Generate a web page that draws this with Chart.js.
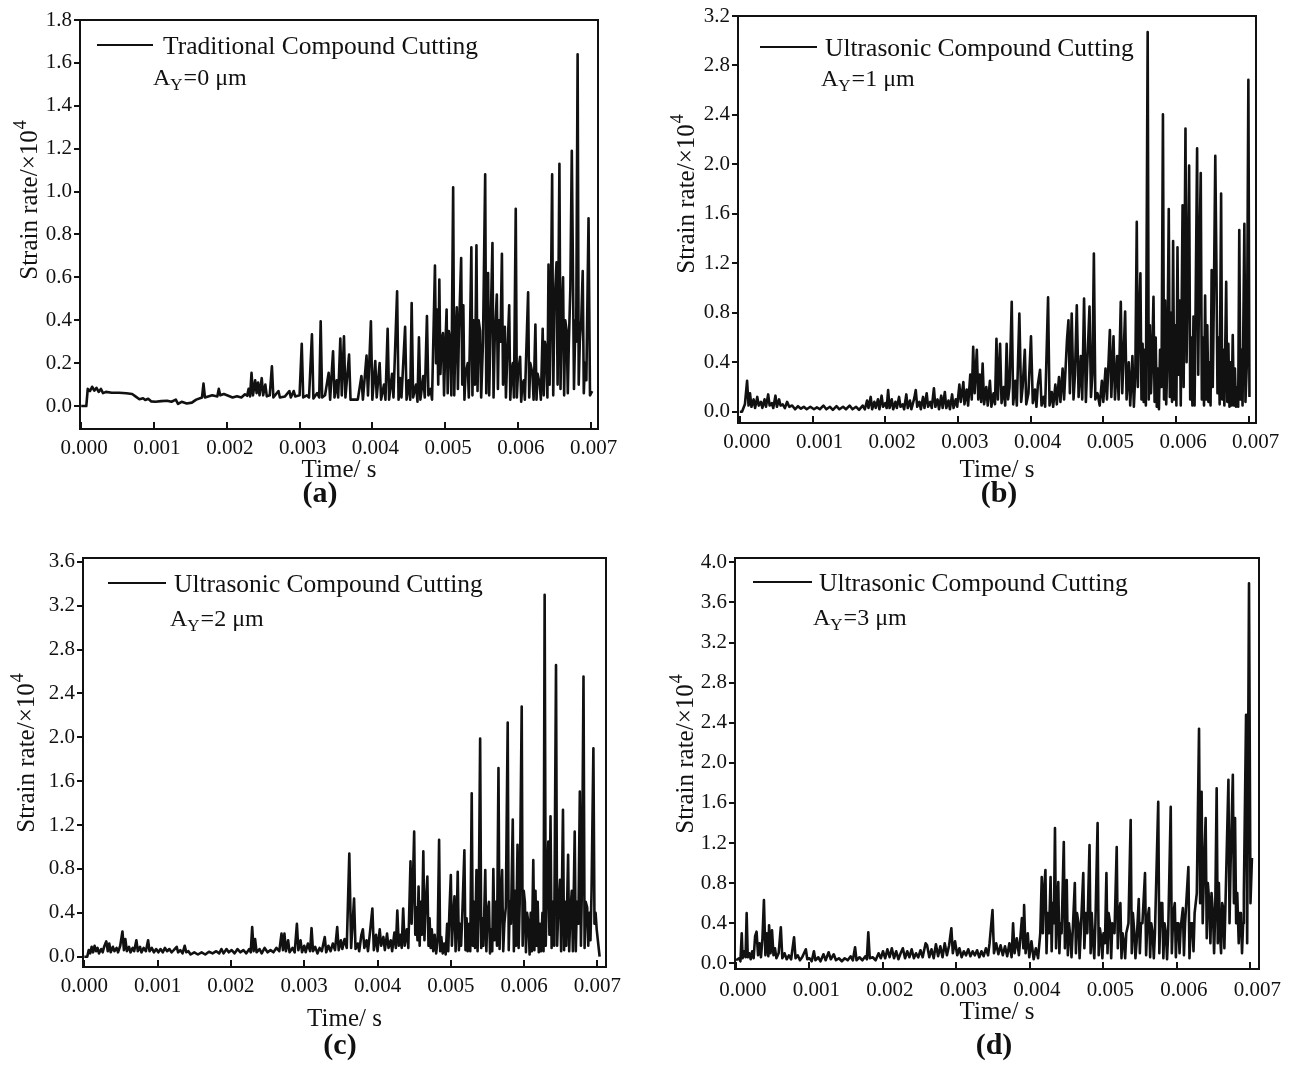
<!DOCTYPE html>
<html>
<head>
<meta charset="utf-8">
<title>Strain rate versus time</title>
<script src="https://cdn.jsdelivr.net/npm/chart.js@4.4.1/dist/chart.umd.min.js"></script>
<style>
  html, body { margin: 0; padding: 0; background: #fff; }
  body { width: 1294px; height: 1066px; position: relative; overflow: hidden; }
  canvas { position: absolute; }
</style>
</head>
<body>
<canvas id="chart-a"></canvas>
<canvas id="chart-b"></canvas>
<canvas id="chart-c"></canvas>
<canvas id="chart-d"></canvas>
<script>
const SERIF = '"Liberation Serif", "Times New Roman", serif';
const INK = "#111111";

const seriesNames = [
    "Traditional Compound Cutting",
    "Ultrasonic Compound Cutting",
    "Ultrasonic Compound Cutting",
    "Ultrasonic Compound Cutting",
];
const amplitudesUm = ["0", "1", "2", "3"];
const panelTags = ["(a)", "(b)", "(c)", "(d)"];

const timeTicks = [0, 0.001, 0.002, 0.003, 0.004, 0.005, 0.006, 0.007];
const rateTicksA = [0, 0.2, 0.4, 0.6, 0.8, 1.0, 1.2, 1.4, 1.6, 1.8];
const rateTicksB = [0, 0.4, 0.8, 1.2, 1.6, 2.0, 2.4, 2.8, 3.2];
const rateTicksC = [0, 0.4, 0.8, 1.2, 1.6, 2.0, 2.4, 2.8, 3.2, 3.6];
const rateTicksD = [0, 0.4, 0.8, 1.2, 1.6, 2.0, 2.4, 2.8, 3.2, 3.6, 4.0];

// (a) traditional cutting, A_Y = 0 um  (time in ms, strain rate in 1e4)
const timeMsA = [
    0.00, 0.07, 0.09, 0.12, 0.15, 0.18, 0.21, 0.24, 0.27, 0.30,
    0.34, 0.42, 0.52, 0.62, 0.70, 0.75, 0.80, 0.85, 0.88, 0.92,
    0.96, 1.02, 1.10, 1.18, 1.24, 1.30, 1.33, 1.38, 1.45, 1.52,
    1.58, 1.66, 1.68, 1.70, 1.80, 1.87, 1.89, 1.91, 1.96, 2.02,
    2.08, 2.14, 2.20, 2.25, 2.28, 2.30, 2.32, 2.34, 2.36, 2.39,
    2.41, 2.43, 2.45, 2.48, 2.50, 2.53, 2.55, 2.59, 2.62, 2.64,
    2.71, 2.73, 2.80, 2.86, 2.88, 2.92, 2.94, 3.00, 3.03, 3.05,
    3.10, 3.13, 3.17, 3.19, 3.24, 3.27, 3.29, 3.31, 3.35, 3.40,
    3.42, 3.46, 3.48, 3.51, 3.53, 3.56, 3.58, 3.61, 3.63, 3.68,
    3.70, 3.76, 3.80, 3.85, 3.87, 3.92, 3.94, 3.98, 4.00, 4.04,
    4.06, 4.10, 4.12, 4.16, 4.18, 4.21, 4.23, 4.27, 4.29, 4.34,
    4.36, 4.38, 4.40, 4.45, 4.47, 4.50, 4.52, 4.54, 4.56, 4.60,
    4.62, 4.64, 4.66, 4.70, 4.72, 4.75, 4.77, 4.80, 4.82,
    4.86, 4.875, 4.89, 4.905, 4.92, 4.935, 4.95, 4.97, 4.985, 5.00,
    5.02, 5.035, 5.05, 5.07, 5.085, 5.11, 5.125, 5.14, 5.16, 5.175,
    5.19, 5.22, 5.235, 5.25, 5.265, 5.28, 5.31, 5.325, 5.34, 5.36,
    5.375, 5.39, 5.41, 5.43, 5.445, 5.46, 5.48, 5.495, 5.52, 5.55,
    5.565, 5.58, 5.59, 5.605, 5.62, 5.65, 5.665, 5.68, 5.71, 5.725,
    5.74, 5.76, 5.78, 5.795, 5.82, 5.835, 5.85, 5.88, 5.895, 5.91,
    5.93, 5.945, 5.97, 5.985, 6.00, 6.03, 6.045, 6.06, 6.08, 6.095,
    6.11, 6.14, 6.155, 6.17, 6.20, 6.215, 6.24, 6.255, 6.27, 6.30,
    6.315, 6.34, 6.355, 6.37, 6.39, 6.405, 6.42, 6.435, 6.45, 6.47,
    6.485, 6.50, 6.53, 6.545, 6.57, 6.585, 6.60, 6.62, 6.635, 6.65,
    6.67, 6.685, 6.70, 6.72, 6.74, 6.755, 6.77, 6.79, 6.80, 6.82,
    6.835, 6.85, 6.87, 6.89, 6.905, 6.92, 6.94, 6.97, 6.99, 7.02,
];
const rateA = [
    0.000, 0.000, 0.080, 0.070, 0.090, 0.072, 0.085, 0.066, 0.080, 0.060,
    0.066, 0.062, 0.062, 0.060, 0.056, 0.044, 0.032, 0.036, 0.028, 0.034,
    0.022, 0.020, 0.023, 0.025, 0.020, 0.030, 0.010, 0.020, 0.012, 0.016,
    0.030, 0.040, 0.105, 0.040, 0.050, 0.045, 0.080, 0.050, 0.056, 0.048,
    0.040, 0.046, 0.040, 0.055, 0.048, 0.080, 0.045, 0.155, 0.050, 0.120,
    0.060, 0.110, 0.050, 0.130, 0.050, 0.100, 0.045, 0.050, 0.185, 0.040,
    0.070, 0.040, 0.045, 0.070, 0.040, 0.070, 0.045, 0.050, 0.290, 0.040,
    0.050, 0.040, 0.335, 0.035, 0.060, 0.040, 0.395, 0.040, 0.050, 0.155,
    0.030, 0.255, 0.040, 0.120, 0.040, 0.315, 0.050, 0.325, 0.040, 0.240,
    0.030, 0.030, 0.030, 0.140, 0.030, 0.235, 0.050, 0.395, 0.030, 0.210,
    0.040, 0.200, 0.030, 0.100, 0.030, 0.360, 0.030, 0.150, 0.040, 0.535,
    0.030, 0.130, 0.040, 0.370, 0.030, 0.120, 0.030, 0.480, 0.040, 0.100,
    0.020, 0.320, 0.030, 0.140, 0.040, 0.420, 0.050, 0.080, 0.030,
    0.655, 0.200, 0.450, 0.100, 0.590, 0.150, 0.300, 0.340, 0.050, 0.250,
    0.450, 0.060, 0.350, 0.300, 0.050, 1.020, 0.050, 0.300, 0.460, 0.080,
    0.350, 0.690, 0.100, 0.470, 0.030, 0.150, 0.200, 0.040, 0.300, 0.740,
    0.050, 0.400, 0.100, 0.750, 0.070, 0.400, 0.350, 0.040, 0.300, 1.080,
    0.060, 0.400, 0.620, 0.050, 0.300, 0.760, 0.040, 0.300, 0.520, 0.080,
    0.400, 0.300, 0.710, 0.100, 0.370, 0.040, 0.200, 0.470, 0.030, 0.150,
    0.200, 0.040, 0.920, 0.040, 0.150, 0.230, 0.020, 0.100, 0.120, 0.030,
    0.200, 0.530, 0.040, 0.200, 0.150, 0.030, 0.380, 0.030, 0.150, 0.100,
    0.030, 0.360, 0.050, 0.300, 0.250, 0.040, 0.660, 0.100, 0.400, 1.080,
    0.050, 0.450, 0.670, 0.100, 1.130, 0.080, 0.400, 0.600, 0.050, 0.400,
    0.350, 0.060, 0.300, 0.550, 1.190, 0.660, 0.080, 0.400, 0.300, 1.640,
    0.100, 0.300, 0.400, 0.630, 0.060, 0.200, 0.120, 0.875, 0.050, 0.070,
];

// (b) ultrasonic, A_Y = 1 um
const timeMsB = [
    0.00, 0.03, 0.07, 0.10, 0.12, 0.14, 0.16, 0.19, 0.21, 0.24,
    0.26, 0.29, 0.31, 0.34, 0.36, 0.39, 0.41, 0.44, 0.46, 0.49,
    0.51, 0.54, 0.56, 0.59, 0.62, 0.65, 0.68, 0.72, 0.76, 0.80,
    0.84, 0.88, 0.92, 0.97, 1.02, 1.06, 1.10, 1.15, 1.19, 1.24,
    1.28, 1.33, 1.37, 1.42, 1.46, 1.51, 1.55, 1.60, 1.64, 1.69,
    1.72, 1.75, 1.77, 1.80, 1.82, 1.85, 1.87, 1.90, 1.92, 1.95,
    1.97, 2.00, 2.02, 2.04, 2.06, 2.09, 2.11, 2.14, 2.16, 2.19,
    2.21, 2.24, 2.26, 2.29, 2.31, 2.34, 2.36, 2.40, 2.42, 2.44,
    2.47, 2.49, 2.52, 2.54, 2.57, 2.59, 2.62, 2.64, 2.67, 2.69,
    2.72, 2.74, 2.77, 2.79, 2.82, 2.84, 2.87, 2.89, 2.92, 2.94,
    2.97, 2.99, 3.02, 3.04, 3.075, 3.09, 3.12, 3.14, 3.17, 3.19,
    3.21, 3.23, 3.26, 3.28, 3.30, 3.32, 3.34, 3.36, 3.39, 3.41,
    3.44, 3.46, 3.49, 3.51, 3.53, 3.55, 3.58, 3.60, 3.63, 3.65,
    3.67, 3.69, 3.71, 3.74, 3.76, 3.79, 3.81, 3.845, 3.87, 3.89,
    3.92, 3.94, 3.97, 4.005, 4.03, 4.06, 4.08, 4.10, 4.13, 4.15,
    4.18, 4.20, 4.24, 4.26, 4.29, 4.31, 4.34, 4.36, 4.39, 4.41,
    4.44, 4.46, 4.50, 4.52, 4.54, 4.565, 4.59, 4.61, 4.635, 4.66,
    4.69, 4.71, 4.735, 4.76, 4.78, 4.81, 4.83, 4.85, 4.87, 4.89,
    4.92, 4.95, 4.98, 5.00, 5.03, 5.05, 5.09, 5.11, 5.14, 5.16,
    5.19, 5.21, 5.24, 5.26, 5.30, 5.32, 5.35, 5.37, 5.40, 5.42,
    5.44, 5.46, 5.475, 5.49, 5.51, 5.525, 5.54, 5.555, 5.57, 5.585,
    5.61, 5.625, 5.64, 5.655, 5.67, 5.69, 5.705, 5.72, 5.735, 5.75,
    5.765, 5.78, 5.80, 5.82, 5.835, 5.85, 5.865, 5.88, 5.90, 5.915,
    5.93, 5.945, 5.96, 5.975, 5.99, 6.005, 6.02, 6.035, 6.05, 6.065,
    6.09, 6.105, 6.13, 6.145, 6.16, 6.18, 6.195, 6.21, 6.225, 6.24,
    6.255, 6.27, 6.29, 6.305, 6.32, 6.34, 6.355, 6.37, 6.385, 6.40,
    6.415, 6.43, 6.445, 6.46, 6.475, 6.49, 6.505, 6.52, 6.54, 6.555,
    6.57, 6.585, 6.60, 6.62, 6.635, 6.65, 6.665, 6.69, 6.705, 6.72,
    6.735, 6.75, 6.765, 6.78, 6.795, 6.81, 6.825, 6.84, 6.855, 6.87,
    6.885, 6.90, 6.915, 6.94, 6.955, 6.975, 6.995, 7.01,
];
const rateB = [
    0.00, 0.00, 0.06, 0.25, 0.05, 0.15, 0.04, 0.10, 0.03, 0.12,
    0.05, 0.08, 0.03, 0.10, 0.04, 0.14, 0.05, 0.07, 0.03, 0.13,
    0.04, 0.10, 0.05, 0.06, 0.03, 0.08, 0.04, 0.05, 0.02, 0.045,
    0.025, 0.04, 0.02, 0.04, 0.02, 0.035, 0.02, 0.05, 0.02, 0.04,
    0.015, 0.045, 0.02, 0.04, 0.02, 0.05, 0.02, 0.04, 0.015, 0.05,
    0.02, 0.09, 0.03, 0.12, 0.02, 0.08, 0.03, 0.10, 0.02, 0.13,
    0.04, 0.07, 0.03, 0.175, 0.03, 0.10, 0.02, 0.08, 0.03, 0.12,
    0.04, 0.06, 0.02, 0.14, 0.03, 0.09, 0.02, 0.11, 0.175, 0.04,
    0.08, 0.02, 0.12, 0.03, 0.15, 0.04, 0.08, 0.03, 0.19, 0.04,
    0.10, 0.02, 0.13, 0.03, 0.16, 0.03, 0.09, 0.02, 0.14, 0.03,
    0.10, 0.04, 0.22, 0.08, 0.24, 0.06, 0.18, 0.05, 0.30, 0.10,
    0.525, 0.15, 0.50, 0.10, 0.30, 0.08, 0.39, 0.06, 0.20, 0.05,
    0.25, 0.04, 0.15, 0.06, 0.59, 0.10, 0.55, 0.07, 0.20, 0.05,
    0.55, 0.10, 0.20, 0.89, 0.06, 0.25, 0.05, 0.795, 0.08, 0.20,
    0.50, 0.06, 0.15, 0.61, 0.07, 0.18, 0.04, 0.22, 0.34, 0.05,
    0.12, 0.04, 0.925, 0.05, 0.16, 0.04, 0.22, 0.06, 0.28, 0.08,
    0.35, 0.10, 0.58, 0.74, 0.15, 0.795, 0.10, 0.30, 0.86, 0.12,
    0.45, 0.10, 0.915, 0.08, 0.40, 0.85, 0.12, 0.30, 1.28, 0.10,
    0.15, 0.05, 0.25, 0.08, 0.35, 0.10, 0.66, 0.12, 0.61, 0.10,
    0.45, 0.10, 0.89, 0.15, 0.81, 0.10, 0.40, 0.05, 0.45, 0.04,
    0.30, 1.535, 0.20, 0.70, 1.12, 0.10, 0.55, 0.08, 0.50, 0.05,
    3.07, 0.10, 0.70, 0.15, 0.40, 0.93, 0.08, 0.60, 0.04, 0.35,
    0.02, 0.50, 0.20, 2.405, 0.10, 0.90, 0.06, 0.40, 1.64, 0.12,
    0.80, 0.08, 1.38, 0.10, 0.70, 0.05, 1.33, 0.30, 0.90, 0.05,
    1.67, 0.20, 2.29, 0.40, 1.00, 1.99, 0.10, 0.60, 0.05, 0.77,
    0.05, 0.90, 2.13, 0.30, 1.20, 1.93, 0.10, 0.60, 0.05, 0.94,
    0.10, 0.70, 0.08, 0.40, 0.05, 1.145, 0.20, 0.90, 2.07, 1.22,
    0.15, 0.60, 0.06, 1.765, 0.10, 0.50, 0.05, 1.05, 0.08, 0.55,
    0.04, 0.40, 0.05, 0.62, 0.05, 0.35, 0.04, 0.20, 0.04, 1.47,
    0.10, 0.50, 0.05, 1.52, 0.08, 0.40, 2.685, 0.12,
];

// (c) ultrasonic, A_Y = 2 um
const timeMsC = [
    0.00, 0.04, 0.06, 0.08, 0.10, 0.12, 0.14, 0.16, 0.18, 0.20,
    0.23, 0.25, 0.27, 0.30, 0.32, 0.34, 0.36, 0.39, 0.41, 0.44,
    0.46, 0.49, 0.52, 0.54, 0.56, 0.58, 0.61, 0.63, 0.66, 0.68,
    0.71, 0.73, 0.76, 0.78, 0.81, 0.84, 0.87, 0.89, 0.92, 0.95,
    0.98, 1.01, 1.04, 1.07, 1.10, 1.13, 1.16, 1.19, 1.22, 1.26,
    1.28, 1.31, 1.34, 1.37, 1.39, 1.42, 1.45, 1.50, 1.55, 1.60,
    1.65, 1.70, 1.75, 1.80, 1.84, 1.87, 1.90, 1.94, 1.97, 2.01,
    2.05, 2.09, 2.13, 2.17, 2.21, 2.25, 2.27, 2.29, 2.31, 2.33,
    2.35, 2.39, 2.42, 2.46, 2.50, 2.54, 2.58, 2.62, 2.66, 2.69,
    2.71, 2.73, 2.75, 2.78, 2.80, 2.84, 2.87, 2.90, 2.92, 2.95,
    2.97, 3.00, 3.02, 3.05, 3.08, 3.10, 3.12, 3.15, 3.18, 3.21,
    3.24, 3.28, 3.30, 3.33, 3.36, 3.39, 3.42, 3.45, 3.47, 3.50,
    3.52, 3.55, 3.58, 3.615, 3.64, 3.68, 3.70, 3.73, 3.75, 3.78,
    3.80, 3.82, 3.85, 3.87, 3.90, 3.93, 3.95, 3.98, 4.00, 4.03,
    4.05, 4.08, 4.10, 4.13, 4.15, 4.18, 4.20, 4.23, 4.25, 4.27,
    4.29, 4.31, 4.33, 4.35, 4.37, 4.40, 4.42,
    4.45, 4.465, 4.48, 4.50, 4.515, 4.53, 4.545, 4.56, 4.575, 4.59,
    4.605, 4.625, 4.64, 4.655, 4.68, 4.695, 4.71, 4.725, 4.74, 4.76,
    4.78, 4.80, 4.82, 4.84, 4.855, 4.87, 4.89, 4.91, 4.93, 4.95,
    4.965, 4.98, 5.00, 5.015, 5.03, 5.05, 5.065, 5.08, 5.094, 5.11,
    5.125, 5.14, 5.16, 5.185, 5.20, 5.215, 5.23, 5.25, 5.265, 5.285,
    5.30, 5.315, 5.33, 5.35, 5.365, 5.38, 5.40, 5.415, 5.43, 5.445,
    5.47, 5.485, 5.50, 5.52, 5.535, 5.55, 5.565, 5.58, 5.595, 5.61,
    5.63, 5.65, 5.665, 5.68, 5.70, 5.715, 5.73, 5.75, 5.776, 5.79,
    5.805, 5.82, 5.845, 5.86, 5.875, 5.89, 5.91, 5.925, 5.94, 5.967,
    5.98, 5.995, 6.01, 6.025, 6.04, 6.06, 6.075, 6.09, 6.105, 6.125,
    6.14, 6.155, 6.17, 6.185, 6.20, 6.215, 6.23, 6.25, 6.265, 6.28,
    6.295, 6.31, 6.33, 6.345, 6.36, 6.375, 6.39, 6.41, 6.435, 6.45,
    6.465, 6.49, 6.505, 6.53, 6.545, 6.56, 6.575, 6.60, 6.615, 6.63,
    6.65, 6.665, 6.69, 6.705, 6.72, 6.74, 6.76, 6.775, 6.79, 6.81,
    6.825, 6.84, 6.86, 6.875, 6.89, 6.905, 6.92, 6.945, 6.96, 6.975,
    6.99, 7.03,
];
const rateC = [
    0.00, 0.00, 0.06, 0.03, 0.09, 0.04, 0.10, 0.05, 0.08, 0.03,
    0.07, 0.04, 0.09, 0.14, 0.05, 0.12, 0.04, 0.09, 0.05, 0.08,
    0.04, 0.10, 0.23, 0.06, 0.16, 0.05, 0.09, 0.04, 0.08, 0.05,
    0.15, 0.05, 0.09, 0.04, 0.08, 0.05, 0.15, 0.05, 0.08, 0.04,
    0.07, 0.04, 0.07, 0.04, 0.08, 0.05, 0.07, 0.04, 0.06, 0.09,
    0.04, 0.06, 0.03, 0.10, 0.04, 0.05, 0.02, 0.04, 0.02, 0.04,
    0.02, 0.045, 0.03, 0.05, 0.03, 0.07, 0.03, 0.07, 0.04, 0.06,
    0.03, 0.07, 0.04, 0.06, 0.03, 0.07, 0.04, 0.27, 0.05, 0.16,
    0.04, 0.07, 0.03, 0.08, 0.04, 0.06, 0.04, 0.08, 0.05, 0.21,
    0.06, 0.21, 0.05, 0.15, 0.04, 0.08, 0.04, 0.30, 0.06, 0.15,
    0.04, 0.10, 0.04, 0.12, 0.05, 0.26, 0.05, 0.09, 0.03, 0.08,
    0.05, 0.18, 0.04, 0.10, 0.05, 0.12, 0.06, 0.27, 0.06, 0.15,
    0.07, 0.16, 0.08, 0.94, 0.08, 0.53, 0.07, 0.12, 0.05, 0.20,
    0.25, 0.08, 0.15, 0.05, 0.24, 0.44, 0.06, 0.20, 0.05, 0.25,
    0.10, 0.18, 0.06, 0.21, 0.08, 0.15, 0.05, 0.22, 0.08, 0.42,
    0.10, 0.20, 0.08, 0.44, 0.10, 0.25, 0.08,
    0.87, 0.30, 0.60, 1.14, 0.20, 0.45, 0.15, 0.64, 0.10, 0.50,
    0.20, 0.96, 0.15, 0.45, 0.73, 0.10, 0.35, 0.08, 0.25, 0.05,
    0.20, 0.03, 0.15, 1.065, 0.05, 0.18, 0.03, 0.12, 0.02, 0.30,
    0.05, 0.40, 0.745, 0.10, 0.35, 0.55, 0.05, 0.30, 0.775, 0.06,
    0.30, 0.10, 0.45, 0.97, 0.06, 0.35, 0.05, 0.30, 0.05, 1.49,
    0.10, 0.50, 0.08, 0.79, 0.05, 0.40, 1.99, 0.08, 0.35, 0.10,
    0.79, 0.05, 0.40, 0.50, 0.03, 0.25, 0.05, 0.80, 0.15, 0.50,
    0.10, 1.72, 0.07, 0.50, 0.79, 0.05, 0.30, 0.45, 2.135, 0.06,
    0.50, 0.30, 1.25, 0.05, 0.60, 0.10, 1.02, 0.08, 0.50, 2.28,
    0.10, 0.60, 0.50, 0.04, 0.40, 0.30, 0.02, 0.40, 0.05, 0.88,
    0.06, 0.60, 0.10, 0.50, 0.04, 0.30, 0.05, 0.40, 0.05, 3.30,
    0.10, 0.60, 1.05, 0.20, 1.28, 0.08, 0.50, 0.10, 2.66, 0.10,
    0.40, 0.70, 0.05, 1.34, 0.06, 0.50, 0.10, 0.93, 0.05, 0.40,
    0.60, 0.05, 1.14, 0.05, 0.50, 0.30, 1.505, 0.10, 0.70, 2.555,
    0.08, 0.50, 0.45, 0.10, 0.40, 0.15, 0.60, 1.90, 0.30, 0.40,
    0.25, 0.00,
];

// (d) ultrasonic, A_Y = 3 um
const timeMsD = [
    0.00, 0.04, 0.06, 0.078, 0.09, 0.11, 0.13, 0.145, 0.16, 0.18,
    0.20, 0.22, 0.24, 0.26, 0.28, 0.30, 0.32, 0.34, 0.36, 0.38,
    0.40, 0.42, 0.44, 0.45, 0.47, 0.49, 0.51, 0.53, 0.55, 0.58,
    0.61, 0.63, 0.66, 0.69, 0.72, 0.75, 0.79, 0.81, 0.84, 0.87,
    0.90, 0.95, 0.97, 1.00, 1.03, 1.06, 1.08, 1.12, 1.15, 1.19,
    1.22, 1.26, 1.29, 1.33, 1.36, 1.40, 1.44, 1.48, 1.52, 1.56,
    1.59, 1.62, 1.64, 1.68, 1.72, 1.76, 1.78, 1.80, 1.82, 1.86,
    1.90, 1.94, 1.97, 2.00, 2.03, 2.06, 2.09, 2.12, 2.15, 2.18,
    2.21, 2.24, 2.27, 2.30, 2.33, 2.36, 2.39, 2.42, 2.45, 2.48,
    2.51, 2.54, 2.58, 2.60, 2.63, 2.66, 2.69, 2.72, 2.75, 2.78,
    2.81, 2.84, 2.87, 2.90, 2.93, 2.95, 2.98, 3.01, 3.04, 3.07,
    3.10, 3.13, 3.16, 3.19, 3.22, 3.25, 3.28, 3.31, 3.34, 3.37,
    3.40, 3.43, 3.45, 3.49, 3.51, 3.54, 3.57, 3.60, 3.63, 3.66,
    3.69, 3.72, 3.75, 3.77, 3.79, 3.82, 3.85, 3.89, 3.91, 3.92,
    3.94, 3.97, 3.99, 4.02, 4.05, 4.08, 4.11,
    4.14, 4.16, 4.175, 4.19, 4.21, 4.225, 4.24, 4.26, 4.28, 4.295,
    4.31, 4.325, 4.34, 4.355, 4.37, 4.385, 4.40, 4.415, 4.43, 4.46,
    4.475, 4.49, 4.50, 4.515, 4.53, 4.55, 4.565, 4.58, 4.61, 4.625,
    4.64, 4.66, 4.675, 4.69, 4.725, 4.74, 4.76, 4.78, 4.81, 4.825,
    4.84, 4.86, 4.875, 4.89, 4.92, 4.935, 4.95, 4.97, 4.985, 5.00,
    5.02, 5.04, 5.055, 5.07, 5.09, 5.105, 5.12, 5.15, 5.18, 5.195,
    5.21, 5.23, 5.245, 5.26, 5.28, 5.295, 5.31, 5.34, 5.37, 5.385,
    5.40, 5.42, 5.435, 5.45, 5.48, 5.495, 5.51, 5.53, 5.565, 5.58,
    5.60, 5.62, 5.635, 5.65, 5.67, 5.685, 5.70, 5.745, 5.76, 5.78,
    5.80, 5.815, 5.83, 5.85, 5.865, 5.88, 5.915, 5.93, 5.95, 5.97,
    5.985, 6.00, 6.02, 6.035, 6.05, 6.08, 6.095, 6.11, 6.155, 6.17,
    6.19, 6.21, 6.225, 6.24, 6.27, 6.30, 6.315, 6.335, 6.35, 6.37,
    6.39, 6.405, 6.42, 6.44, 6.455, 6.47, 6.49, 6.505, 6.52, 6.54,
    6.555, 6.57, 6.585, 6.60, 6.615, 6.63, 6.645, 6.67, 6.70, 6.715,
    6.73, 6.76, 6.775, 6.79, 6.805, 6.82, 6.84, 6.855, 6.87, 6.885,
    6.90, 6.91, 6.94, 6.955, 6.98, 7.00, 7.02,
];
const rateD = [
    0.03, 0.05, 0.02, 0.30, 0.05, 0.12, 0.06, 0.50, 0.06, 0.10,
    0.04, 0.12, 0.05, 0.27, 0.315, 0.08, 0.20, 0.06, 0.25, 0.63,
    0.08, 0.30, 0.07, 0.38, 0.10, 0.33, 0.08, 0.15, 0.05, 0.10,
    0.36, 0.05, 0.10, 0.04, 0.08, 0.04, 0.26, 0.05, 0.08, 0.03,
    0.06, 0.14, 0.04, 0.05, 0.02, 0.12, 0.03, 0.06, 0.02, 0.09,
    0.03, 0.11, 0.04, 0.09, 0.03, 0.05, 0.02, 0.05, 0.03, 0.07,
    0.03, 0.16, 0.03, 0.06, 0.03, 0.07, 0.04, 0.31, 0.05, 0.06,
    0.03, 0.10, 0.05, 0.12, 0.05, 0.14, 0.06, 0.15, 0.05, 0.12,
    0.04, 0.10, 0.15, 0.05, 0.12, 0.06, 0.14, 0.05, 0.10, 0.06,
    0.13, 0.06, 0.20, 0.18, 0.06, 0.14, 0.05, 0.19, 0.07, 0.17,
    0.06, 0.20, 0.08, 0.18, 0.35, 0.10, 0.22, 0.08, 0.15, 0.06,
    0.12, 0.08, 0.14, 0.07, 0.12, 0.08, 0.13, 0.06, 0.12, 0.07,
    0.15, 0.08, 0.20, 0.53, 0.10, 0.20, 0.09, 0.18, 0.08, 0.17,
    0.07, 0.20, 0.06, 0.40, 0.10, 0.25, 0.08, 0.45, 0.15, 0.58,
    0.10, 0.30, 0.06, 0.22, 0.04, 0.15, 0.05,
    0.30, 0.86, 0.30, 0.70, 0.93, 0.10, 0.50, 0.30, 0.86, 0.12,
    0.60, 0.40, 1.35, 0.15, 0.50, 0.81, 0.10, 0.40, 0.30, 1.21,
    0.15, 0.60, 0.83, 0.08, 0.40, 0.25, 0.06, 0.30, 0.80, 0.10,
    0.50, 0.40, 0.05, 0.30, 0.90, 0.15, 0.50, 0.30, 1.18, 0.10,
    0.50, 0.20, 0.05, 0.40, 1.40, 0.08, 0.35, 0.25, 0.05, 0.30,
    0.20, 0.90, 0.10, 0.50, 0.40, 0.05, 0.40, 0.30, 1.16, 0.15,
    0.50, 0.60, 0.05, 0.30, 0.20, 0.05, 0.30, 0.40, 1.43, 0.10,
    0.50, 0.30, 0.05, 0.20, 0.64, 0.10, 0.40, 0.40, 0.90, 0.08,
    0.45, 0.55, 0.06, 0.40, 0.30, 0.05, 0.30, 1.61, 0.10, 0.60,
    0.60, 0.05, 0.40, 0.30, 0.04, 0.30, 1.56, 0.10, 0.50, 0.60,
    0.06, 0.40, 0.40, 0.10, 0.35, 0.55, 0.08, 0.40, 0.96, 0.05,
    0.40, 0.40, 0.12, 0.50, 0.70, 2.34, 0.60, 1.71, 0.40, 1.00,
    1.45, 0.25, 0.80, 0.60, 0.20, 0.70, 0.50, 0.10, 0.50, 1.745,
    0.20, 0.80, 0.30, 0.10, 0.60, 0.55, 0.15, 0.90, 1.83, 0.40,
    1.00, 1.88, 0.60, 1.45, 0.40, 0.70, 0.20, 0.50, 0.50, 0.10,
    0.40, 0.70, 2.48, 0.20, 3.79, 0.60, 1.05,
];

// plot boxes in page pixels: [left, top, right, bottom]
const AXIS_W = 80;
const AXIS_H = 96;
const TOP_PAD = 12;
const RIGHT_PAD = 34;

const panels = [
    {
        canvas: "chart-a", box: [80, 20, 598, 429], time: timeMsA, rate: rateA, yTicks: rateTicksA,
        xRange: [-0.0000165, 0.0071], yRange: [-0.107, 1.8], labelPad: 7, labelShift: 3,
        legend: { lineFrom: 17, lineTo: 73, lineY: 25, textX: 83, ampX: 73, ampY: 65 },
        yTitle: [-50, -24], timeDrop: 41, tagAt: [240, 65],
    },
    {
        canvas: "chart-b", box: [738, 16, 1256, 423], time: timeMsB, rate: rateB, yTicks: rateTicksB,
        xRange: [-0.000025, 0.0071], yRange: [-0.091, 3.2], labelPad: 7, labelShift: 7,
        legend: { lineFrom: 22, lineTo: 79, lineY: 31, textX: 87, ampX: 83, ampY: 70 },
        yTitle: [-51, -25], timeDrop: 47, tagAt: [261, 71],
    },
    {
        canvas: "chart-c", box: [83, 558, 606, 967], time: timeMsC, rate: rateC, yTicks: rateTicksC,
        xRange: [-0.000018, 0.007117], yRange: [-0.094, 3.635], labelPad: 7, labelShift: 0,
        legend: { lineFrom: 25, lineTo: 83, lineY: 25, textX: 91, ampX: 87, ampY: 68 },
        yTitle: [-56, -9], timeDrop: 52, tagAt: [257, 79],
    },
    {
        canvas: "chart-d", box: [735, 558, 1259, 969], time: timeMsD, rate: rateD, yTicks: rateTicksD,
        xRange: [-0.0000136, 0.007116], yRange: [-0.057, 4.043], labelPad: 9, labelShift: 7,
        legend: { lineFrom: 18, lineTo: 77, lineY: 24, textX: 84, ampX: 78, ampY: 67 },
        yTitle: [-49, -9], timeDrop: 43, tagAt: [259, 77],
    },
];

// frame, inward time ticks, in-plot legend, rotated y title and panel tag
const panelDecor = {
    id: "panelDecor",
    afterDraw(chart, args, opts) {
        const { ctx, chartArea: area, scales } = chart;
        ctx.save();
        ctx.strokeStyle = INK;
        ctx.fillStyle = INK;
        ctx.lineWidth = 2;
        ctx.strokeRect(area.left, area.top, area.right - area.left, area.bottom - area.top);

        ctx.beginPath();
        scales.x.ticks.forEach((tick) => {
            const px = Math.round(scales.x.getPixelForValue(tick.value));
            ctx.moveTo(px, area.bottom);
            ctx.lineTo(px, area.bottom - 7);
        });
        ctx.stroke();

        const lg = opts.legend;
        ctx.beginPath();
        ctx.moveTo(area.left + lg.lineFrom, area.top + lg.lineY);
        ctx.lineTo(area.left + lg.lineTo, area.top + lg.lineY);
        ctx.stroke();
        ctx.textAlign = "left";
        ctx.textBaseline = "alphabetic";
        ctx.font = `25.5px ${SERIF}`;
        ctx.fillText(chart.data.datasets[0].label, area.left + lg.textX, area.top + lg.lineY + 8.5);

        let ax = area.left + lg.ampX;
        const ay = area.top + lg.ampY;
        ctx.font = `24px ${SERIF}`;
        ctx.fillText("A", ax, ay);
        ax += ctx.measureText("A").width;
        ctx.font = `17px ${SERIF}`;
        ctx.fillText("Y", ax, ay + 5);
        ax += ctx.measureText("Y").width + 1;
        ctx.font = `24px ${SERIF}`;
        ctx.fillText(`=${opts.amplitude} μm`, ax, ay);

        const base = "Strain rate/×10";
        const sup = "4";
        ctx.font = `25px ${SERIF}`;
        const wBase = ctx.measureText(base).width;
        ctx.font = `18px ${SERIF}`;
        const wSup = ctx.measureText(sup).width;
        ctx.save();
        ctx.translate(area.left + opts.yTitle[0], (area.top + area.bottom) / 2 + opts.yTitle[1]);
        ctx.rotate(-Math.PI / 2);
        ctx.textBaseline = "middle";
        const start = -(wBase + wSup) / 2;
        ctx.font = `25px ${SERIF}`;
        ctx.fillText(base, start, 0);
        ctx.font = `18px ${SERIF}`;
        ctx.fillText(sup, start + wBase + 1, -9);
        ctx.restore();

        ctx.font = `bold 30px ${SERIF}`;
        ctx.textAlign = "center";
        ctx.textBaseline = "middle";
        ctx.fillText(opts.tag, area.left + opts.tagAt[0], area.bottom + opts.tagAt[1]);
        ctx.restore();
    },
};

function buildChart(p, i) {
    const canvas = document.getElementById(p.canvas);
    const [l, t, r, b] = p.box;
    const w = AXIS_W + (r - l) + RIGHT_PAD;
    const h = TOP_PAD + (b - t) + AXIS_H;
    canvas.width = w;
    canvas.height = h;
    canvas.style.width = w + "px";
    canvas.style.height = h + "px";
    canvas.style.left = (l - AXIS_W) + "px";
    canvas.style.top = (t - TOP_PAD) + "px";

    const tickFont = { family: SERIF, size: 21 };

    return new Chart(canvas, {
        type: "line",
        data: {
            datasets: [{
                label: seriesNames[i],
                data: p.time.map((ms, k) => ({ x: ms / 1000, y: p.rate[k] })),
                borderColor: INK,
                borderWidth: 2.6,
                borderJoinStyle: "round",
                pointRadius: 0,
                tension: 0,
                fill: false,
            }],
        },
        plugins: [panelDecor],
        options: {
            responsive: false,
            animation: false,
            layout: { padding: { left: 0, top: TOP_PAD, right: RIGHT_PAD, bottom: 0 } },
            scales: {
                x: {
                    type: "linear",
                    min: p.xRange[0],
                    max: p.xRange[1],
                    afterBuildTicks: (scale) => {
                        scale.ticks = timeTicks.map((v) => ({ value: v }));
                    },
                    afterFit: (scale) => {
                        scale.height = AXIS_H;
                        scale.paddingLeft = 0;
                        scale.paddingRight = 0;
                    },
                    border: { display: true, color: INK, width: 2 },
                    grid: { drawOnChartArea: false, drawTicks: false },
                    ticks: {
                        padding: p.labelPad,
                        labelOffset: p.labelShift,
                        maxRotation: 0,
                        autoSkip: false,
                        color: INK,
                        font: tickFont,
                        callback: (v) => Number(v).toFixed(3),
                    },
                    title: {
                        display: true,
                        text: "Time/ s",
                        color: INK,
                        font: { family: SERIF, size: 25 },
                        padding: { top: 0, bottom: AXIS_H - 15 - p.timeDrop },
                    },
                },
                y: {
                    min: p.yRange[0],
                    max: p.yRange[1],
                    afterBuildTicks: (scale) => {
                        scale.ticks = p.yTicks.map((v) => ({ value: v }));
                    },
                    afterFit: (scale) => {
                        scale.width = AXIS_W;
                        scale.paddingTop = 0;
                        scale.paddingBottom = 0;
                    },
                    border: { display: true, color: INK, width: 2 },
                    grid: { drawOnChartArea: false, drawTicks: true, tickLength: 6, color: INK, lineWidth: 2 },
                    ticks: {
                        padding: 2,
                        color: INK,
                        font: tickFont,
                        callback: (v) => Number(v).toFixed(1),
                    },
                },
            },
            plugins: {
                legend: { display: false },
                tooltip: { enabled: false },
                panelDecor: {
                    legend: p.legend,
                    amplitude: amplitudesUm[i],
                    yTitle: p.yTitle,
                    tag: panelTags[i],
                    tagAt: p.tagAt,
                },
            },
        },
    });
}

panels.forEach(buildChart);
</script>
</body>
</html>
